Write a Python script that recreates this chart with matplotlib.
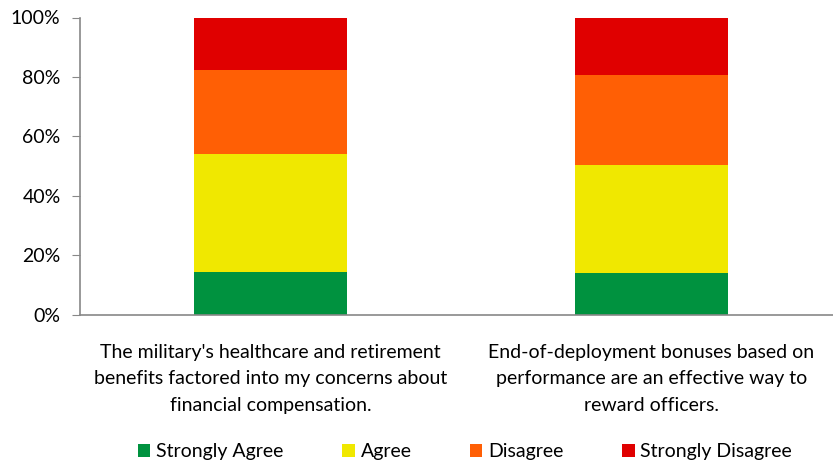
import matplotlib.pyplot as plt
import numpy as np

plt.rcParams['font.family'] = ['Lato', 'DejaVu Sans']

categories = ["The military's healthcare and retirement\nbenefits factored into my concerns about\nfinancial compensation.",
              "End-of-deployment bonuses based on\nperformance are an effective way to\nreward officers."]
series = ["Strongly Agree", "Agree", "Disagree", "Strongly Disagree"]
strongly_agree = [14.4, 14.1]
agree = [39.7, 36.3]
disagree = [28.2, 30.3]
strongly_disagree = [17.7, 19.3]
colors = ['#00923F', '#F0E800', '#FF5F05', '#E00000']

fig = plt.figure(figsize=(8.33, 4.62), dpi=100)
ax = fig.add_axes([80/833, 1 - 314.5/462, 762/833, 297/462])

x = np.arange(len(categories))
bottom = np.zeros(len(categories))
for name, vals, c in zip(series, [strongly_agree, agree, disagree, strongly_disagree], colors):
    ax.bar(x, vals, width=0.4, bottom=bottom, color=c, label=name)
    bottom += np.array(vals)

ax.set_xlim(-0.5, 1.5)
ax.set_ylim(0, 100)
ax.set_yticks(np.arange(0, 101, 20))
ax.set_yticklabels([f"{v}%" for v in range(0, 101, 20)], fontsize=14)
ax.set_xticks(x)
ax.set_xticklabels(categories, fontsize=14, linespacing=1.68)
ax.tick_params(axis='x', length=0, pad=21)
ax.tick_params(axis='y', length=6, color='#888888', pad=8)
for s in ['top', 'right']:
    ax.spines[s].set_visible(False)
for s in ['left', 'bottom']:
    ax.spines[s].set_color('#888888')
    ax.spines[s].set_linewidth(1.2)

ax.legend(loc='center', bbox_to_anchor=(465/833, 1 - 452/462), bbox_transform=fig.transFigure,
          ncol=4, frameon=False, fontsize=14, handlelength=0.65, handleheight=0.65,
          handletextpad=0.3, columnspacing=3.0)

fig.savefig('out.png', dpi=100)
